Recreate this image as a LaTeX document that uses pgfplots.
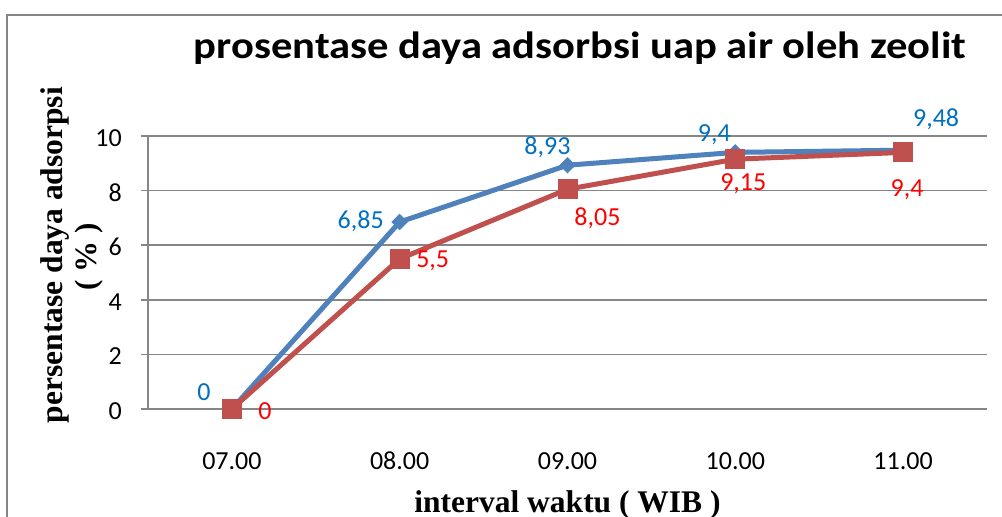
\documentclass[border=0pt]{standalone}
\usepackage{pgfplots}
\pgfplotsset{compat=1.18}
\usepackage{fontspec}
\setmainfont{Carlito}
\newfontfamily\carlito{Carlito}
\newfontfamily\titlefont[FakeStretch=1.12]{Carlito}
\newfontfamily\timesf{Liberation Serif}
\definecolor{sblue}{HTML}{4F81BD}
\definecolor{sred}{HTML}{C0504D}
\definecolor{lblue}{HTML}{0070C0}
\definecolor{lred}{HTML}{FF0000}
\definecolor{gridc}{HTML}{868686}
\begin{document}
\begin{tikzpicture}[x=1pt,y=1pt]
\useasboundingbox (0pt,0pt) rectangle (1002pt,-517pt);
\fill[white] (0pt,0pt) rectangle (1002pt,-517pt);
\begin{scope}
\clip (0pt,0pt) rectangle (1002pt,-517pt);
\draw[gridc, line width=2.5pt] (1030pt,-15pt) -- (7pt,-15pt) -- (7pt,-560pt);
\end{scope}
\node[anchor=base, inner sep=0pt, font=\titlefont\bfseries\fontsize{38}{44}\selectfont] at (580pt,-58pt) {prosentase daya adsorbsi uap air oleh zeolit};
\node[anchor=base, inner sep=0pt, rotate=90, font=\timesf\bfseries\fontsize{31.5}{36}\selectfont] at (62pt,-255pt) {persentase daya adsorpsi};
\node[anchor=base, inner sep=0pt, rotate=90, font=\timesf\bfseries\fontsize{31}{36}\selectfont] at (96pt,-256.5pt) {( \% )};
\node[anchor=base, inner sep=0pt, font=\timesf\bfseries\fontsize{31.5}{36}\selectfont] at (567.5pt,-512pt) {interval waktu ( WIB )};
\begin{axis}[
  at={(148pt,-409pt)}, anchor=south west,
  scale only axis, width=839pt, height=273pt,
  xmin=-0.5, xmax=4.5, ymin=0, ymax=10,
  xtick={0,1,2,3,4},
  xticklabels={07.00,08.00,09.00,10.00,11.00},
  ytick={0,2,4,6,8,10},
  axis x line*=bottom, axis y line*=left,
  axis line style={gridc, line width=1.5pt},
  ymajorgrids, grid style={gridc, line width=1.5pt},
  xtick style={draw=none},
  ytick style={gridc, line width=1.5pt},
  major tick length=7pt, tick align=outside,
  tick label style={font=\carlito\fontsize{26}{31}\selectfont},
  /pgf/number format/assume math mode=true,
  yticklabel style={inner sep=0pt, anchor=east, xshift=-19pt, yshift=-2pt},
  xticklabel style={inner sep=0pt, anchor=north, yshift=-36pt},
  clip=false,
]
\addplot[sblue, line width=5pt, mark=square*, mark size=5.3pt,
  mark options={rotate=45, solid, line width=1pt, fill=sblue}]
  coordinates {(0,0) (1,6.85) (2,8.93) (3,9.4) (4,9.48)};
\addplot[sred, line width=5pt, mark=square*, mark size=9.5pt,
  mark options={solid, line width=1pt, fill=sred}]
  coordinates {(0,0) (1,5.5) (2,8.05) (3,9.15) (4,9.4)};
\tikzset{dl/.style={anchor=base, inner sep=0pt, font=\carlito\fontsize{26}{31}\selectfont}}
\node[dl, lblue, xshift=-28pt, yshift=9pt] at (axis cs:0,0) {0};
\node[dl, lblue, xshift=-39pt, yshift=-6pt] at (axis cs:1,6.85) {6,85};
\node[dl, lblue, xshift=-20pt, yshift=11pt] at (axis cs:2,8.93) {8,93};
\node[dl, lblue, xshift=-21pt, yshift=11pt] at (axis cs:3,9.4) {9,4};
\node[dl, lblue, xshift=33pt, yshift=24pt] at (axis cs:4,9.48) {9,48};
\node[dl, lred, xshift=33pt, yshift=-10pt] at (axis cs:0,0) {0};
\node[dl, lred, xshift=33pt, yshift=-9pt] at (axis cs:1,5.5) {5,5};
\node[dl, lred, xshift=30pt, yshift=-36pt] at (axis cs:2,8.05) {8,05};
\node[dl, lred, xshift=8pt, yshift=-31pt] at (axis cs:3,9.15) {9,15};
\node[dl, lred, xshift=4pt, yshift=-44pt] at (axis cs:4,9.4) {9,4};
\end{axis}
\end{tikzpicture}
\end{document}
